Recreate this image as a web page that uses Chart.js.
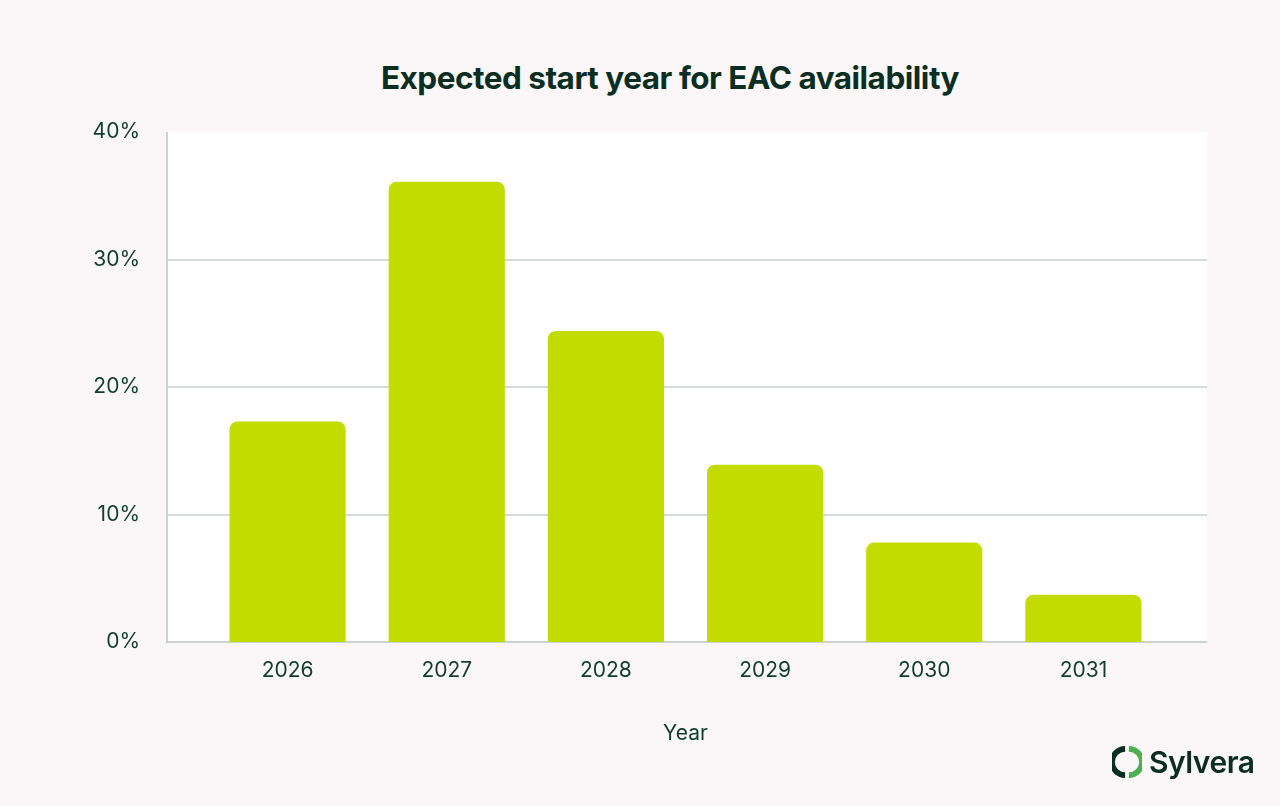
<!DOCTYPE html>
<html>
<head>
<meta charset="utf-8">
<script src="https://cdn.jsdelivr.net/npm/chart.js@4"></script>
<style>
  body { margin: 0; background: #fbf7f8; font-family: Inter, "Noto Sans", sans-serif; }
  #wrap { position: relative; width: 1280px; height: 806px; }
  #title { position: absolute; top: 58px; left: 0; width: 1340px; text-align: center; font-size: 31.5px; font-weight: 700; color: #0b2e22; letter-spacing: -0.5px; }
  #logo { position: absolute; left: 1112px; top: 744px; display: flex; align-items: center; font-size: 30px; font-weight: 600; color: #0b2e22; letter-spacing: -0.5px; }
  #logo svg { margin-right: 7px; }
  canvas { position: absolute; left: 0; top: 0; }
</style>
</head>
<body>
<div id="wrap">
  <div id="title">Expected start year for EAC availability</div>
  <canvas id="c" width="1280" height="806"></canvas>
  <div id="logo">
    <svg width="30" height="34" viewBox="0 0 32 36">
      <path d="M14 4 A14 14 0 0 0 14 32" stroke="#0b2e22" stroke-width="6" fill="none"/>
      <path d="M18 32 A14 14 0 0 0 18 4" stroke="#4caf50" stroke-width="6" fill="none"/>
    </svg>Sylvera
  </div>
</div>
<script>
const years = ['2026', '2027', '2028', '2029', '2030', '2031'];
const shares = [17.3, 36.1, 24.4, 13.9, 7.8, 3.7];
const gridSteps = [10, 20, 30];

// panel is wider than the category band, so white area, grid and axis lines are drawn here
const panel = {
    id: 'panel',
    beforeDraw: function (chart) {
        const c = chart.ctx, a = chart.chartArea, y = chart.scales.y;
        const left = 167, right = 1207;
        c.save();
        c.fillStyle = '#ffffff';
        c.fillRect(left, a.top, right - left, a.bottom - a.top);
        c.strokeStyle = '#d3dcdb';
        c.lineWidth = 2;
        gridSteps.forEach(v => {
            const py = Math.round(y.getPixelForValue(v));
            c.beginPath(); c.moveTo(left, py); c.lineTo(right, py); c.stroke();
        });
        c.strokeStyle = '#c9d3d2';
        c.beginPath();
        c.moveTo(left, a.top); c.lineTo(left, a.bottom); c.lineTo(right, a.bottom);
        c.stroke();
        c.restore();
    }
};

const ctx = document.getElementById('c').getContext('2d');
new Chart(ctx, {
    type: 'bar',
    data: {
        labels: years,
        datasets: [{
            data: shares,
            backgroundColor: '#c2dc00',
            borderRadius: { topLeft: 8, topRight: 8 },
            borderSkipped: 'bottom',
            categoryPercentage: 1,
            barPercentage: 0.73
        }]
    },
    options: {
        responsive: false,
        animation: false,
        layout: { padding: { top: 132, right: 117, left: 0, bottom: 60 } },
        plugins: { legend: { display: false }, tooltip: { enabled: false } },
        scales: {
            x: {
                grid: { display: false },
                border: { display: false },
                ticks: { color: '#0f3d2e', font: { size: 21, family: 'Inter' }, padding: 8 },
                title: { display: true, text: 'Year', color: '#0f3d2e', font: { size: 21, family: 'Inter' }, padding: { top: 34, bottom: 0 } },
                afterFit: function (s) { s.height = 104; }
            },
            y: {
                min: 0, max: 40,
                grid: { display: false, drawTicks: false },
                border: { display: false },
                ticks: {
                    stepSize: 10, padding: 68, color: '#0f3d2e',
                    font: { size: 21, family: 'Inter' },
                    callback: v => v + '%'
                },
                afterFit: function (s) { s.width = 208; }
            }
        }
    },
    plugins: [panel]
});
</script>
</body>
</html>
